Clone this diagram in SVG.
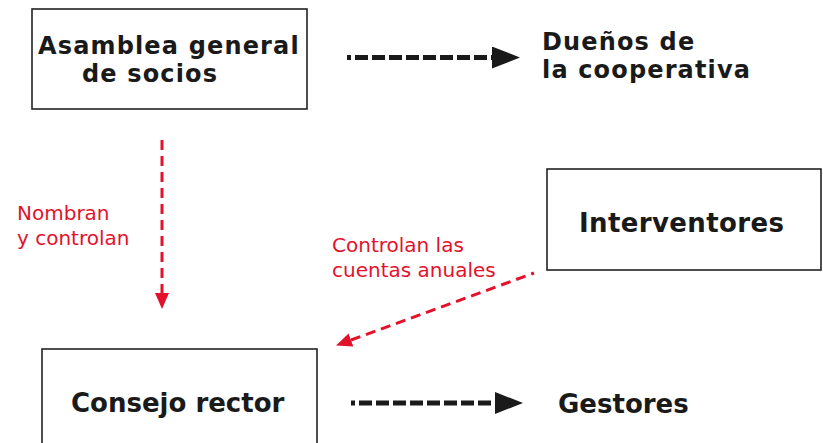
<svg xmlns="http://www.w3.org/2000/svg" width="823" height="443" viewBox="0 0 823 443">
<defs>
<style>
.box{fill:#fff;stroke:#222;stroke-width:1.6}
.t{font-family:"DejaVu Sans","Liberation Sans",sans-serif;font-weight:bold;font-size:26px;fill:#1a1a1a}
.t2{font-family:"DejaVu Sans","Liberation Sans",sans-serif;font-weight:bold;font-size:24px;letter-spacing:1.15px;fill:#1a1a1a}
.r{font-family:"DejaVu Sans","Liberation Sans",sans-serif;font-size:20px;fill:#e3122c}
.blk{stroke:#1a1a1a;stroke-width:5;fill:none;stroke-dasharray:13 4;stroke-dashoffset:9}
.red{stroke:#e3122c;stroke-width:3;fill:none;stroke-dasharray:10 6}
</style>
<marker id="ab" viewBox="0 0 10 10" refX="0" refY="5" markerWidth="28" markerHeight="22" markerUnits="userSpaceOnUse" orient="auto" preserveAspectRatio="none">
<path d="M0,0 L10,5 L0,10 z" fill="#1a1a1a"/>
</marker>
<marker id="ar" viewBox="0 0 10 10" refX="0" refY="5" markerWidth="16" markerHeight="14" markerUnits="userSpaceOnUse" orient="auto" preserveAspectRatio="none">
<path d="M0,0 L10,5 L0,10 z" fill="#e3122c"/>
</marker>
</defs>
<rect width="823" height="443" fill="#fff"/>
<g id="connectors">
<path class="blk" d="M347,57.5 H492" marker-end="url(#ab)"/>
<path class="blk" d="M351,403 H495" marker-end="url(#ab)"/>
<path class="red" d="M162,140 V293" marker-end="url(#ar)"/>
<path class="red" d="M534,273 L351,340" marker-end="url(#ar)" style="stroke-dashoffset:7"/>
</g>
<g id="asamblea">
<rect class="box" x="32" y="9" width="275" height="100"/>
<text class="t2"><tspan x="38" y="54">Asamblea general</tspan><tspan x="82" y="82">de socios</tspan></text>
</g>
<g id="duenos">
<text class="t2"><tspan x="542" y="50">Dueños de</tspan><tspan x="542" y="78">la cooperativa</tspan></text>
</g>
<g id="interventores">
<rect class="box" x="547" y="169" width="274" height="101"/>
<text class="t" x="579" y="232" textLength="205">Interventores</text>
</g>
<g id="consejo">
<rect class="box" x="42" y="349" width="275" height="110"/>
<text class="t" x="71" y="412">Consejo rector</text>
</g>
<g id="gestores">
<text class="t" x="558" y="413">Gestores</text>
</g>
<g id="labels">
<text class="r"><tspan x="17" y="220">Nombran</tspan><tspan x="17" y="245">y controlan</tspan></text>
<text class="r"><tspan x="332" y="252">Controlan las</tspan><tspan x="332" y="277">cuentas anuales</tspan></text>
</g>
</svg>
